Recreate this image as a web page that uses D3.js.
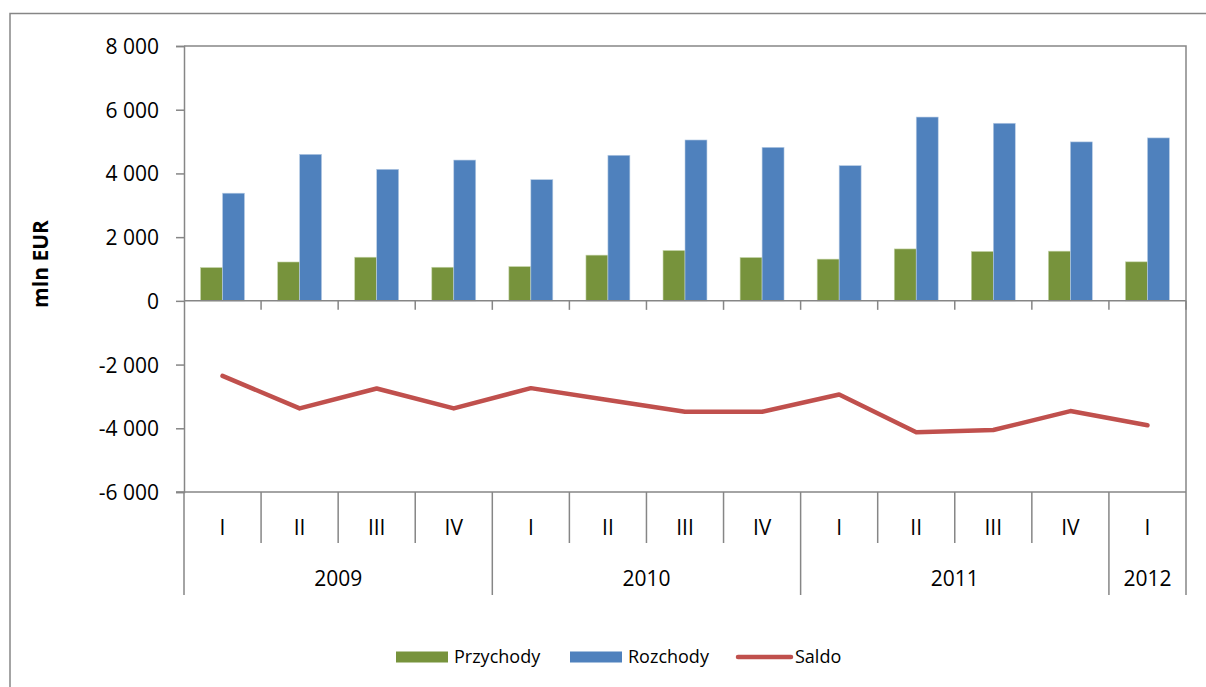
<!DOCTYPE html>
<html>
<head>
<meta charset="utf-8">
<script src="https://cdn.jsdelivr.net/npm/d3@7"></script>
<style>
  body { margin: 0; background: #fff; }
  svg { display: block; font-family: "Open Sans", sans-serif; }
</style>
</head>
<body>
<svg id="chart" width="1206" height="687"></svg>
<script>
// data
const quarters = ['I', 'II', 'III', 'IV', 'I', 'II', 'III', 'IV', 'I', 'II', 'III', 'IV', 'I'];
const years = [
	{ label: '2009', from: 0, to: 4 },
	{ label: '2010', from: 4, to: 8 },
	{ label: '2011', from: 8, to: 12 },
	{ label: '2012', from: 12, to: 13 },
];
const przychody = [1045, 1220, 1370, 1055, 1075, 1435, 1580, 1360, 1310, 1630, 1550, 1560, 1225];
const rozchody = [3380, 4600, 4130, 4420, 3805, 4570, 5050, 4820, 4245, 5770, 5575, 4990, 5115];
const saldo = [-2355, -3375, -2750, -3375, -2740, -3115, -3480, -3480, -2940, -4125, -4055, -3460, -3905];
const yTicks = [8000, 6000, 4000, 2000, 0, -2000, -4000, -6000];

const colors = { przychody: '#77933C', rozchody: '#4F81BD', saldo: '#C0504D' };
const gridColor = '#868686';

const svg = d3.select('#chart');
const plotL = 184, plotR = 1186, plotT = 46, plotB = 492;

// outer chart frame
svg.append('rect')
	.attr('x', 10).attr('y', 13.5)
	.attr('width', 1220).attr('height', 700)
	.attr('fill', 'none').attr('stroke', gridColor).attr('stroke-width', 1.5);

let idx = d3.range(quarters.length);
let x = d3.scaleBand().domain(idx).range([plotL, plotR]).paddingInner(0.43).paddingOuter(0.215);
let xSub = d3.scaleBand().domain(['p', 'r']).range([0, x.bandwidth()]);
let y = d3.scaleLinear().domain([-6000, 8000]).range([plotB, plotT]);
let step = x.step();
let edge = i => plotL + i * step;

// plot area box (top and right)
svg.append('path')
	.attr('d', `M${plotL},${plotT}H${plotR}V${plotB}`)
	.attr('fill', 'none').attr('stroke', gridColor).attr('stroke-width', 1.5);

// y axis
let yAxis = svg.append('g')
	.attr('transform', `translate(${plotL},0)`)
	.call(d3.axisLeft(y).tickValues(yTicks).tickSize(8).tickPadding(17)
		.tickFormat(d => d3.format(',')(d).replace(/,/g, ' ').replace('−', '-')));
yAxis.attr('font-family', null).attr('font-size', null);
yAxis.select('.domain').attr('stroke', gridColor).attr('stroke-width', 1.5);
yAxis.selectAll('.tick line').attr('stroke', gridColor).attr('stroke-width', 1.5);
yAxis.selectAll('.tick text').attr('font-size', 21).attr('fill', '#000').attr('dy', '0.36em');

// bottom line
svg.append('line')
	.attr('x1', plotL - 8).attr('x2', plotR)
	.attr('y1', plotB).attr('y2', plotB)
	.attr('stroke', gridColor).attr('stroke-width', 1.5);

// bars
let groups = svg.append('g').selectAll('g')
	.data(idx).enter().append('g')
	.attr('transform', i => `translate(${x(i)},0)`);
groups.append('rect')
	.attr('x', xSub('p')).attr('width', xSub.bandwidth())
	.attr('y', i => y(przychody[i])).attr('height', i => y(0) - y(przychody[i]))
	.attr('fill', colors.przychody).attr('stroke', '#c4d4a8').attr('stroke-width', 0.6);
groups.append('rect')
	.attr('x', xSub('r')).attr('width', xSub.bandwidth())
	.attr('y', i => y(rozchody[i])).attr('height', i => y(0) - y(rozchody[i]))
	.attr('fill', colors.rozchody).attr('stroke', '#b9cde5').attr('stroke-width', 0.6);

// zero axis with ticks at category edges
svg.append('line')
	.attr('x1', plotL).attr('x2', plotR)
	.attr('y1', y(0)).attr('y2', y(0))
	.attr('stroke', gridColor).attr('stroke-width', 1.5);
svg.append('g').selectAll('line')
	.data(d3.range(1, quarters.length + 1)).enter().append('line')
	.attr('x1', edge).attr('x2', edge)
	.attr('y1', y(0)).attr('y2', y(0) + 9)
	.attr('stroke', gridColor).attr('stroke-width', 1.5);

// saldo line
svg.append('path')
	.datum(saldo)
	.attr('d', d3.line().x((d, i) => x(i) + x.bandwidth() / 2).y(d => y(d)))
	.attr('fill', 'none').attr('stroke', colors.saldo)
	.attr('stroke-width', 4.5).attr('stroke-linejoin', 'round').attr('stroke-linecap', 'round');

// category labels
let yearEdges = [0, 4, 8, 12, 13];
svg.append('g').selectAll('line')
	.data(d3.range(0, quarters.length + 1)).enter().append('line')
	.attr('x1', edge).attr('x2', edge)
	.attr('y1', plotB).attr('y2', i => yearEdges.includes(i) ? 595 : 543)
	.attr('stroke', gridColor).attr('stroke-width', 1.5);
svg.append('g').selectAll('text')
	.data(quarters).enter().append('text')
	.attr('x', (d, i) => x(i) + x.bandwidth() / 2).attr('y', 527)
	.attr('dy', '0.36em').attr('text-anchor', 'middle')
	.attr('font-size', 21).text(d => d);
svg.append('g').selectAll('text')
	.data(years).enter().append('text')
	.attr('x', d => (edge(d.from) + edge(d.to)) / 2).attr('y', 578)
	.attr('dy', '0.36em').attr('text-anchor', 'middle')
	.attr('font-size', 21).text(d => d.label);

// y title
svg.append('text')
	.attr('transform', 'translate(40,264) rotate(-90)')
	.attr('text-anchor', 'middle').attr('dy', '0.36em')
	.attr('font-size', 21).attr('font-weight', 'bold').text('mln EUR');

// legend
let legend = [
	{ name: 'Przychody', type: 'rect', color: colors.przychody, x: 396 },
	{ name: 'Rozchody', type: 'rect', color: colors.rozchody, x: 570 },
	{ name: 'Saldo', type: 'line', color: colors.saldo, x: 738 },
];
let lg = svg.append('g').selectAll('g')
	.data(legend).enter().append('g')
	.attr('transform', d => `translate(${d.x},657)`);
lg.filter(d => d.type === 'rect').append('rect')
	.attr('x', 0).attr('y', -5.5).attr('width', 52).attr('height', 11)
	.attr('fill', d => d.color);
lg.filter(d => d.type === 'line').append('line')
	.attr('x1', 0).attr('x2', 53).attr('y1', 0).attr('y2', 0)
	.attr('stroke', d => d.color).attr('stroke-width', 4.5).attr('stroke-linecap', 'round');
lg.append('text')
	.attr('x', d => d.type === 'rect' ? 58 : 57).attr('dy', '0.36em')
	.attr('font-size', 18).text(d => d.name);
</script>
</body>
</html>
